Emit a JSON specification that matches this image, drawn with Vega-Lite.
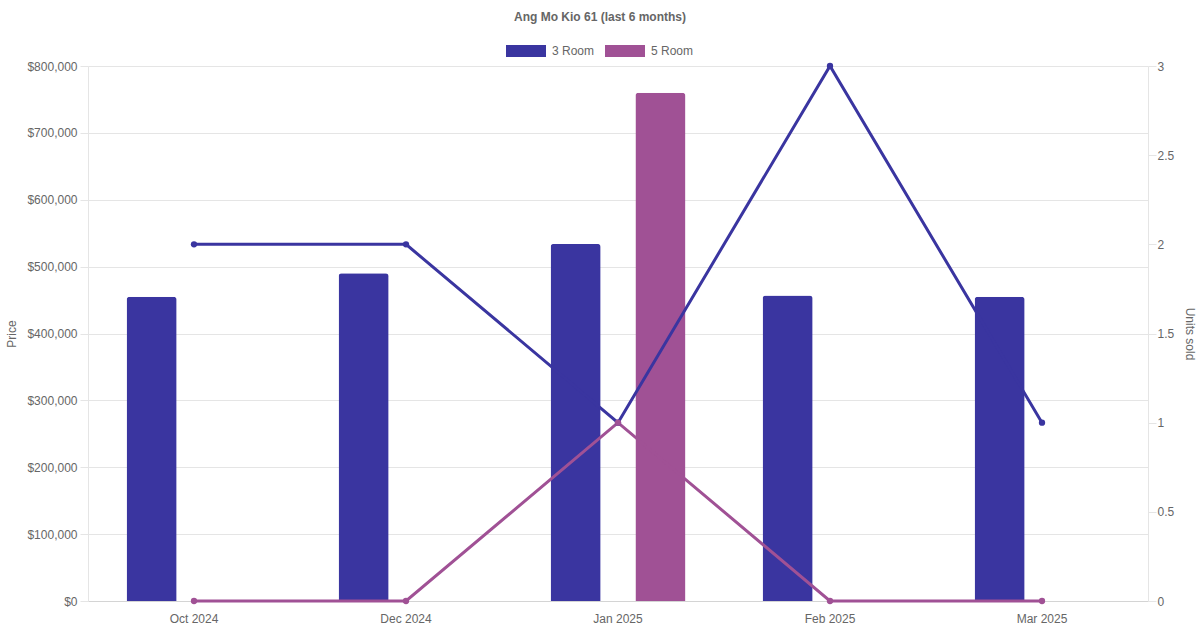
{
  "$schema": "https://vega.github.io/schema/vega-lite/v6.json",
  "width": 1060,
  "height": 535,
  "autosize": "none",
  "padding": {"left": 88, "top": 66, "right": 52, "bottom": 29},
  "background": "white",
  "title": {
    "text": "Ang Mo Kio 61 (last 6 months)",
    "frame": "group",
    "anchor": "middle",
    "dx": -18,
    "offset": -5,
    "baseline": "bottom",
    "font": "Liberation Sans",
    "fontSize": 12,
    "fontWeight": "bold",
    "color": "#666"
  },
  "data": {
    "values": [
      {"month": "Oct 2024", "flat": "3 Room", "price": 455000, "units": 2},
      {"month": "Oct 2024", "flat": "5 Room", "price": null, "units": 0},
      {"month": "Dec 2024", "flat": "3 Room", "price": 490000, "units": 2},
      {"month": "Dec 2024", "flat": "5 Room", "price": null, "units": 0},
      {"month": "Jan 2025", "flat": "3 Room", "price": 534000, "units": 1},
      {"month": "Jan 2025", "flat": "5 Room", "price": 760000, "units": 1},
      {"month": "Feb 2025", "flat": "3 Room", "price": 457000, "units": 3},
      {"month": "Feb 2025", "flat": "5 Room", "price": null, "units": 0},
      {"month": "Mar 2025", "flat": "3 Room", "price": 455000, "units": 1},
      {"month": "Mar 2025", "flat": "5 Room", "price": null, "units": 0}
    ]
  },
  "encoding": {
    "x": {
      "field": "month",
      "type": "nominal",
      "title": null,
      "scale": {
        "domain": ["Oct 2024", "Dec 2024", "Jan 2025", "Feb 2025", "Mar 2025"],
        "paddingInner": 0.2,
        "paddingOuter": 0.1
      },
      "axis": {
        "labelAngle": 0,
        "ticks": false,
        "labelPadding": 12,
        "domainColor": "#d4d4d4",
        "grid": false
      }
    }
  },
  "layer": [
    {
      "transform": [{"filter": "isValid(datum.price)"}],
      "mark": {"type": "bar", "cornerRadiusTopLeft": 3, "cornerRadiusTopRight": 3},
      "encoding": {
        "xOffset": {
          "field": "flat",
          "type": "nominal",
          "scale": {"domain": ["3 Room", "5 Room"], "paddingInner": 0.41, "paddingOuter": 0.205}
        },
        "y": {
          "field": "price",
          "type": "quantitative",
          "title": "Price",
          "scale": {"domain": [0, 800000], "nice": false},
          "axis": {
            "orient": "left",
            "values": [0, 100000, 200000, 300000, 400000, 500000, 600000, 700000, 800000],
            "format": "$,.0f",
            "tickSize": 8,
            "labelPadding": 3,
            "titlePadding": 8
          }
        },
        "color": {
          "field": "flat",
          "type": "nominal",
          "scale": {"domain": ["3 Room", "5 Room"], "range": ["#3a35a0", "#a05195"]},
          "legend": {
            "orient": "none",
            "direction": "horizontal",
            "legendX": 418,
            "legendY": -35,
            "title": null,
            "symbolType": "M-1,-0.3H1V0.3H-1Z",
            "symbolSize": 1600,
            "symbolStrokeWidth": 0,
            "labelOffset": 6,
            "columnPadding": 10,
            "labelFont": "Liberation Sans",
            "labelFontSize": 12,
            "labelColor": "#666"
          }
        }
      }
    },
    {
      "layer": [
        {
          "mark": {"type": "line", "strokeWidth": 3},
          "encoding": {
            "y": {
              "field": "units",
              "type": "quantitative",
              "title": "Units sold",
              "scale": {"domain": [0, 3], "nice": false},
              "axis": {
                "orient": "right",
                "values": [0, 0.5, 1, 1.5, 2, 2.5, 3],
                "format": ".1~f",
                "grid": false,
                "tickSize": 8,
                "labelPadding": 1,
                "titlePadding": 9
              }
            },
            "stroke": {
              "field": "flat",
              "type": "nominal",
              "scale": {"domain": ["3 Room", "5 Room"], "range": ["#3a35a0", "#a05195"]},
              "legend": null
            }
          }
        },
        {
          "mark": {"type": "point", "filled": true, "size": 40, "opacity": 1},
          "encoding": {
            "y": {"field": "units", "type": "quantitative"},
            "fill": {
              "field": "flat",
              "type": "nominal",
              "scale": {"domain": ["3 Room", "5 Room"], "range": ["#3a35a0", "#a05195"]},
              "legend": null
            }
          }
        }
      ]
    }
  ],
  "resolve": {"scale": {"y": "independent"}},
  "config": {
    "view": {"stroke": null},
    "font": "Liberation Sans",
    "axis": {
      "labelFont": "Liberation Sans",
      "labelFontSize": 12,
      "labelColor": "#666",
      "titleFont": "Liberation Sans",
      "titleFontSize": 12,
      "titleFontWeight": "normal",
      "titleColor": "#666",
      "gridColor": "#e5e5e5",
      "domainColor": "#e5e5e5",
      "tickColor": "#e5e5e5"
    }
  }
}
